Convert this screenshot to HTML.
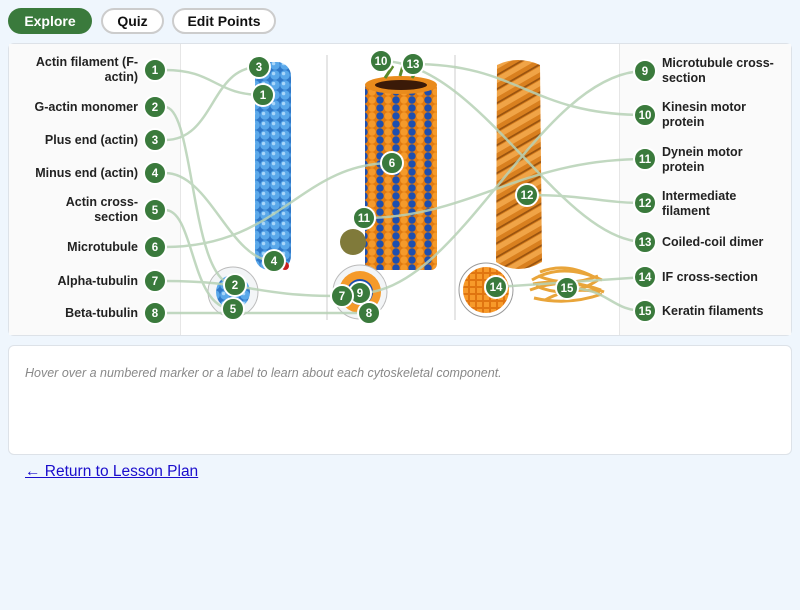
<!DOCTYPE html>
<html><head><meta charset="utf-8"><style>
body{margin:0;width:800px;height:610px;background:#eff6fd;font-family:"Liberation Sans",sans-serif;position:relative;overflow:hidden}
.btn{position:absolute;top:8px;height:26px;border-radius:13px;font-weight:bold;font-size:14px;line-height:26px;text-align:center;box-sizing:border-box}
.bd{line-height:22px}
#panel{position:absolute;left:8px;top:43px;width:784px;height:293px;background:#fff;border:1px solid #dde2e8;border-radius:6px;box-sizing:border-box;overflow:hidden}
.lab{position:absolute;font-size:12.5px;font-weight:bold;color:#222;line-height:15px}
.l{right:662px;text-align:right}
.r{left:662px}
#desc{position:absolute;left:8px;top:345px;width:784px;height:110px;background:#fff;border:1px solid #dde2e8;border-radius:6px;box-sizing:border-box}
</style></head><body>
<div class="btn" style="left:8px;width:84px;background:#3a7a3c;color:#fff">Explore</div>
<div class="btn bd" style="left:101px;width:63px;background:#fff;border:2px solid #ccc;color:#111">Quiz</div>
<div class="btn bd" style="left:172px;width:104px;background:#fff;border:2px solid #ccc;color:#111">Edit Points</div>
<div id="panel"></div>
<svg style="position:absolute;left:0;top:0" width="800" height="340">
<defs>
<pattern id="bl" width="10" height="10" patternUnits="userSpaceOnUse"><rect width="10" height="10" fill="#2f78c8"/><circle cx="5" cy="5" r="4.8" fill="#5aa8ea"/><circle cx="3.6" cy="3.6" r="1.7" fill="#a9d6fa"/></pattern>
<pattern id="mt" width="16" height="8" patternUnits="userSpaceOnUse"><rect width="16" height="8" fill="#e07a10"/><circle cx="4" cy="4" r="3.7" fill="#f59a2a"/><circle cx="12" cy="4" r="3.7" fill="#1d4fb0"/></pattern>
<pattern id="rp" width="46" height="14" patternUnits="userSpaceOnUse" patternTransform="skewY(-30)"><rect width="46" height="14" fill="#d9801f"/><rect y="0" width="46" height="6" fill="#f0a447"/><rect y="11" width="46" height="2" fill="#9a5410"/></pattern>
<pattern id="ifc" width="7" height="7" patternUnits="userSpaceOnUse"><rect width="7" height="7" fill="#e07510"/><rect x="1" y="1" width="5" height="5" fill="#f79a2a"/></pattern>
</defs>
<rect x="9" y="44" width="171" height="291" fill="#fafafa"/><line x1="180.5" y1="44" x2="180.5" y2="335" stroke="#e6e6e6"/>
<rect x="620" y="44" width="171" height="291" fill="#fafafa"/><line x1="619.5" y1="44" x2="619.5" y2="335" stroke="#e6e6e6"/>
<line x1="327" y1="55" x2="327" y2="320" stroke="#ccc"/><line x1="455" y1="55" x2="455" y2="320" stroke="#ccc"/>
<rect x="255" y="62" width="36" height="208" rx="14" fill="url(#bl)"/>
<circle cx="285" cy="266" r="4" fill="#c62020"/>
<rect x="365" y="82" width="72" height="188" rx="6" fill="url(#mt)"/>
<ellipse cx="401" cy="85" rx="36" ry="9" fill="#e98b1c"/><ellipse cx="401" cy="85" rx="26" ry="5" fill="#3a1a08"/>
<path d="M385 78 l8 -12 M400 76 l4 -14 M412 78 l6 -10" stroke="#5a8a2a" stroke-width="3"/>
<circle cx="353" cy="242" r="13" fill="#807a3a"/><circle cx="360" cy="215" r="6" fill="#7b6bc8"/>
<path d="M497 65 Q518 55 540 65 L542 262 Q518 276 496 262 Z" fill="url(#rp)"/>
<circle cx="233" cy="292" r="25" fill="#f3f5f7" stroke="#bbb"/>
<circle cx="233" cy="292" r="17" fill="url(#bl)"/>
<circle cx="360" cy="292" r="27" fill="#f3f5f7" stroke="#bbb"/>
<circle cx="360" cy="292" r="21" fill="#f59a2a"/><circle cx="360" cy="292" r="13" fill="#1d4fb0"/><circle cx="360" cy="292" r="8" fill="#fff"/>
<circle cx="486" cy="290" r="27" fill="#fff" stroke="#999"/><circle cx="486" cy="290" r="23" fill="url(#ifc)"/>
<g stroke="#e9a53a" stroke-width="3" fill="none"><path d="M532 280 q30 -18 70 0"/><path d="M530 290 q35 -14 74 2"/><path d="M534 298 q34 8 68 -4"/><path d="M540 272 q25 -10 52 4"/><path d="M536 286 q32 14 62 -6"/><path d="M538 276 q30 12 60 0"/><path d="M545 300 q25 -14 55 -8"/><path d="M533 284 q34 -6 68 6"/></g>
<g stroke="#b7d2b6" stroke-width="2.5" fill="none" opacity="0.85">
<path d="M165 70 C215 70 215 95 263 95"/>
<path d="M165 140 C215 140 210 67 259 67"/>
<path d="M165 107 C195 107 190 285 235 285"/>
<path d="M165 173 C210 173 230 261 274 261"/>
<path d="M165 210 C195 210 190 309 233 309"/>
<path d="M165 247 C280 247 300 163 392 163"/>
<path d="M165 281 C250 281 250 296 342 296"/>
<path d="M165 313 L369 313"/>
<path d="M413 64 C520 64 530 115 645 115"/>
<path d="M381 61 C480 61 560 242 645 242"/>
<path d="M364 218 C470 218 520 159 645 159"/>
<path d="M360 293 C460 293 540 71 645 71"/>
<path d="M527 195 C590 195 600 203 645 203"/>
<path d="M496 287 L645 277"/>
<path d="M567 288 C610 288 610 311 645 311"/>
</g>
</svg>
<svg style="position:absolute;left:0;top:0" width="800" height="340" font-family="Liberation Sans" font-size="11.5" font-weight="bold" text-anchor="middle">
<g fill="#3a7a3c" stroke="#fff" stroke-width="2">
<circle cx="155" cy="70" r="11"/><circle cx="155" cy="107" r="11"/><circle cx="155" cy="140" r="11"/><circle cx="155" cy="173" r="11"/><circle cx="155" cy="210" r="11"/><circle cx="155" cy="247" r="11"/><circle cx="155" cy="281" r="11"/><circle cx="155" cy="313" r="11"/>
<circle cx="645" cy="71" r="11"/><circle cx="645" cy="115" r="11"/><circle cx="645" cy="159" r="11"/><circle cx="645" cy="203" r="11"/><circle cx="645" cy="242" r="11"/><circle cx="645" cy="277" r="11"/><circle cx="645" cy="311" r="11"/>
<circle cx="259" cy="67" r="11"/><circle cx="263" cy="95" r="11"/><circle cx="274" cy="261" r="11"/><circle cx="235" cy="285" r="11"/><circle cx="233" cy="309" r="11"/><circle cx="381" cy="61" r="11"/><circle cx="413" cy="64" r="11"/><circle cx="392" cy="163" r="11"/><circle cx="364" cy="218" r="11"/><circle cx="360" cy="293" r="11"/><circle cx="342" cy="296" r="11"/><circle cx="369" cy="313" r="11"/><circle cx="527" cy="195" r="11"/><circle cx="496" cy="287" r="11"/><circle cx="567" cy="288" r="11"/>
</g>
<g fill="#fff">
<text x="155" y="74">1</text><text x="155" y="111">2</text><text x="155" y="144">3</text><text x="155" y="177">4</text><text x="155" y="214">5</text><text x="155" y="251">6</text><text x="155" y="285">7</text><text x="155" y="317">8</text>
<text x="645" y="75">9</text><text x="645" y="119">10</text><text x="645" y="163">11</text><text x="645" y="207">12</text><text x="645" y="246">13</text><text x="645" y="281">14</text><text x="645" y="315">15</text>
<text x="259" y="71">3</text><text x="263" y="99">1</text><text x="274" y="265">4</text><text x="235" y="289">2</text><text x="233" y="313">5</text><text x="381" y="65">10</text><text x="413" y="68">13</text><text x="392" y="167">6</text><text x="364" y="222">11</text><text x="360" y="297">9</text><text x="342" y="300">7</text><text x="369" y="317">8</text><text x="527" y="199">12</text><text x="496" y="291">14</text><text x="567" y="292">15</text>
</g></svg>
<div class="lab l" style="top:55px">Actin filament (F-<br>actin)</div>
<div class="lab l" style="top:100px">G-actin monomer</div>
<div class="lab l" style="top:133px">Plus end (actin)</div>
<div class="lab l" style="top:166px">Minus end (actin)</div>
<div class="lab l" style="top:195px">Actin cross-<br>section</div>
<div class="lab l" style="top:240px">Microtubule</div>
<div class="lab l" style="top:274px">Alpha-tubulin</div>
<div class="lab l" style="top:306px">Beta-tubulin</div>
<div class="lab r" style="top:56px">Microtubule cross-<br>section</div>
<div class="lab r" style="top:100px">Kinesin motor<br>protein</div>
<div class="lab r" style="top:145px">Dynein motor<br>protein</div>
<div class="lab r" style="top:189px">Intermediate<br>filament</div>
<div class="lab r" style="top:235px">Coiled-coil dimer</div>
<div class="lab r" style="top:270px">IF cross-section</div>
<div class="lab r" style="top:304px">Keratin filaments</div>
<div id="desc"><div style="position:absolute;left:16px;top:20px;font-size:12.5px;font-style:italic;color:#888">Hover over a numbered marker or a label to learn about each cytoskeletal component.</div></div>
<a href="#" style="position:absolute;left:25px;top:463px;font-size:15.5px;color:#1a0dcc;text-decoration:underline">← Return to Lesson Plan</a>
</body></html>
